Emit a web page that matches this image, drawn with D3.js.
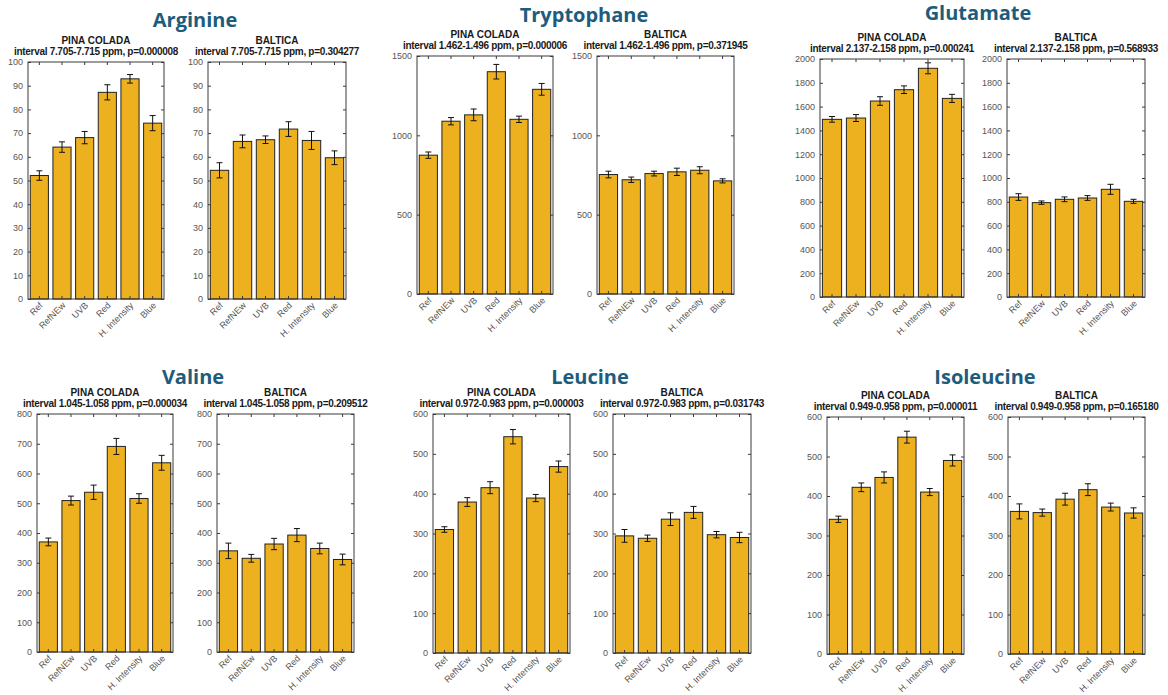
<!DOCTYPE html>
<html>
<head>
<meta charset="utf-8">
<script src="https://cdn.jsdelivr.net/npm/d3@7"></script>
<style>
  html, body { margin: 0; padding: 0; background: #ffffff; }
  svg { display: block; }
</style>
</head>
<body>
<svg id="chart" width="1168" height="695"></svg>
<script>
// Treatment groups on every x axis
const categories = ["Ref", "RefNEw", "UVB", "Red", "H. Intensity", "Blue"];

// Metabolites, their spectral integration windows and ANOVA p-values
const acids = ["Arginine", "Tryptophane", "Glutamate", "Valine", "Leucine", "Isoleucine"];
const intervals = ["7.705-7.715", "1.462-1.496", "2.137-2.158", "1.045-1.058", "0.972-0.983", "0.949-0.958"];
const pPinaColada = ["0.000008", "0.000006", "0.000241", "0.000034", "0.000003", "0.000011"];
const pBaltica = ["0.304277", "0.371945", "0.568933", "0.209512", "0.031743", "0.165180"];

// Y-axis extent and tick step per metabolite
const yMaxima = [100, 1500, 2000, 800, 600, 600];
const yTickSteps = [10, 500, 200, 100, 100, 100];

// Mean intensities and standard errors, PINA COLADA cultivar
const argininePina = [52.1, 64.1, 68.1, 87.2, 92.9, 74.2];
const argininePinaErr = [2.0, 2.2, 2.6, 3.2, 1.8, 3.2];
const tryptophanePina = [875, 1089, 1129, 1401, 1101, 1290];
const tryptophanePinaErr = [20, 23, 37, 46, 20, 37];
const glutamatePina = [1493, 1504, 1647, 1742, 1922, 1669];
const glutamatePinaErr = [24, 29, 36, 32, 46, 34];
const valinePina = [370, 509, 537, 691, 516, 636];
const valinePinaErr = [13, 15, 24, 27, 16, 25];
const leucinePina = [310, 379, 415, 543, 389, 468];
const leucinePinaErr = [7, 11, 15, 18, 9, 14];
const isoleucinePina = [341, 422, 447, 549, 410, 490];
const isoleucinePinaErr = [8, 11, 14, 15, 9, 14];

// Mean intensities and standard errors, BALTICA cultivar
const arginineBaltica = [54.3, 66.5, 67.2, 71.7, 66.9, 59.6];
const arginineBalticaErr = [3.2, 2.7, 1.6, 3.1, 3.8, 2.9];
const tryptophaneBaltica = [753, 720, 759, 770, 780, 713];
const tryptophaneBalticaErr = [21, 17, 15, 23, 22, 13];
const glutamateBaltica = [840, 793, 821, 832, 905, 804];
const glutamateBalticaErr = [28, 14, 20, 20, 42, 17];
const valineBaltica = [340, 315, 363, 393, 348, 311];
const valineBalticaErr = [26, 13, 19, 22, 18, 18];
const leucineBaltica = [294, 288, 336, 353, 297, 290];
const leucineBalticaErr = [16, 8, 16, 15, 8, 13];
const isoleucineBaltica = [361, 358, 392, 416, 372, 357];
const isoleucineBalticaErr = [19, 9, 15, 15, 10, 13];

const pinaSeries = [argininePina, tryptophanePina, glutamatePina, valinePina, leucinePina, isoleucinePina];
const pinaErrors = [argininePinaErr, tryptophanePinaErr, glutamatePinaErr, valinePinaErr, leucinePinaErr, isoleucinePinaErr];
const balticaSeries = [arginineBaltica, tryptophaneBaltica, glutamateBaltica, valineBaltica, leucineBaltica, isoleucineBaltica];
const balticaErrors = [arginineBalticaErr, tryptophaneBalticaErr, glutamateBalticaErr, valineBalticaErr, leucineBalticaErr, isoleucineBalticaErr];

// Page layout: heading anchor and the two plot frames of each metabolite
const layout = [
  { title: [195, 27], frames: [[28, 62, 136, 237], [208, 62, 138, 237]] },
  { title: [584, 22], frames: [[417, 56, 136, 238], [597, 56, 137, 238]] },
  { title: [978, 20], frames: [[820, 59, 144, 238], [1007, 59, 138, 238]] },
  { title: [193, 384], frames: [[37, 414, 136, 238], [217, 414, 137, 238]] },
  { title: [590, 384], frames: [[433, 414, 137, 239], [613, 414, 138, 239]] },
  { title: [985, 384], frames: [[827, 417, 137, 237], [1008, 417, 137, 237]] }
];

const BAR_FILL = "#EDB120";
const AXIS_COLOR = "#3a3a3a";
const LABEL_COLOR = "#555555";
const FONT = "Liberation Sans, Arial, sans-serif";

const svg = d3.select("#chart");

function drawPanel(frame, cultivar, interval, p, values, errors, yMax, step) {
  const [x0, y0, w, h] = frame;
  const g = svg.append("g").attr("transform", `translate(${x0},${y0})`);

  const x = d3.scaleBand().domain(categories).range([0, w]).paddingInner(0.2).paddingOuter(0.1);
  const y = d3.scaleLinear().domain([0, yMax]).range([h, 0]);
  const ticks = d3.range(0, yMax + step / 2, step);

  // Panel titles
  g.append("text")
    .attr("x", w / 2).attr("y", -18.5)
    .attr("text-anchor", "middle")
    .attr("font-family", FONT)
    .attr("font-weight", "bold").attr("font-size", 10)
    .attr("fill", "#1a1a1a")
    .text(cultivar);
  g.append("text")
    .attr("x", w / 2).attr("y", -7)
    .attr("text-anchor", "middle")
    .attr("font-family", FONT)
    .attr("font-weight", "bold").attr("font-size", 10)
    .attr("letter-spacing", -0.3)
    .attr("fill", "#1a1a1a")
    .text(`interval ${interval} ppm, p=${p}`);

  // Bars
  g.selectAll("rect.bar")
    .data(categories)
    .join("rect")
    .attr("class", "bar")
    .attr("x", d => x(d))
    .attr("width", x.bandwidth())
    .attr("y", (d, i) => y(values[i]))
    .attr("height", (d, i) => h - y(values[i]))
    .attr("fill", BAR_FILL)
    .attr("stroke", "#222")
    .attr("stroke-width", 1);

  // Error bars
  const cap = 3;
  const cx = d => x(d) + x.bandwidth() / 2;
  const eb = g.selectAll("g.err").data(categories).join("g").attr("class", "err");
  eb.append("line")
    .attr("x1", cx).attr("x2", cx)
    .attr("y1", (d, i) => y(values[i] - errors[i])).attr("y2", (d, i) => y(values[i] + errors[i]));
  eb.append("line")
    .attr("x1", d => cx(d) - cap).attr("x2", d => cx(d) + cap)
    .attr("y1", (d, i) => y(values[i] + errors[i])).attr("y2", (d, i) => y(values[i] + errors[i]));
  eb.append("line")
    .attr("x1", d => cx(d) - cap).attr("x2", d => cx(d) + cap)
    .attr("y1", (d, i) => y(values[i] - errors[i])).attr("y2", (d, i) => y(values[i] - errors[i]));
  eb.selectAll("line").attr("stroke", "#111").attr("stroke-width", 1);

  // Axes with inward ticks on all four sides
  const styleAxis = sel => {
    sel.select(".domain").remove();
    sel.selectAll(".tick line").attr("stroke", AXIS_COLOR);
    sel.selectAll("text")
      .attr("fill", LABEL_COLOR)
      .attr("font-family", FONT)
      .attr("font-size", 9);
  };

  g.append("g")
    .call(d3.axisLeft(y).tickValues(ticks).tickSize(-3).tickPadding(5).tickFormat(d3.format("d")))
    .call(styleAxis);
  g.append("g").attr("transform", `translate(${w},0)`)
    .call(d3.axisRight(y).tickValues(ticks).tickSize(-3).tickFormat(""))
    .call(styleAxis);
  g.append("g")
    .call(d3.axisTop(x).tickSize(-3).tickFormat(""))
    .call(styleAxis);
  const bottom = g.append("g").attr("transform", `translate(0,${h})`)
    .call(d3.axisBottom(x).tickSize(-3).tickPadding(0))
    .call(styleAxis);
  bottom.selectAll("text")
    .attr("text-anchor", "end")
    .attr("dy", 0)
    .attr("transform", "translate(4,7) rotate(-45)")
    .attr("font-size", 9);

  // Frame
  g.append("rect")
    .attr("width", w).attr("height", h)
    .attr("fill", "none")
    .attr("stroke", AXIS_COLOR)
    .attr("stroke-width", 1);
}

acids.forEach((name, k) => {
  const spec = layout[k];
  svg.append("text")
    .attr("x", spec.title[0]).attr("y", spec.title[1])
    .attr("text-anchor", "middle")
    .attr("font-family", "Open Sans, Noto Sans, sans-serif")
    .attr("font-weight", "bold").attr("font-size", 20)
    .attr("fill", "#1d5c7c")
    .text(name);

  drawPanel(spec.frames[0], "PINA COLADA", intervals[k], pPinaColada[k],
    pinaSeries[k], pinaErrors[k], yMaxima[k], yTickSteps[k]);
  drawPanel(spec.frames[1], "BALTICA", intervals[k], pBaltica[k],
    balticaSeries[k], balticaErrors[k], yMaxima[k], yTickSteps[k]);
});
</script>
</body>
</html>
